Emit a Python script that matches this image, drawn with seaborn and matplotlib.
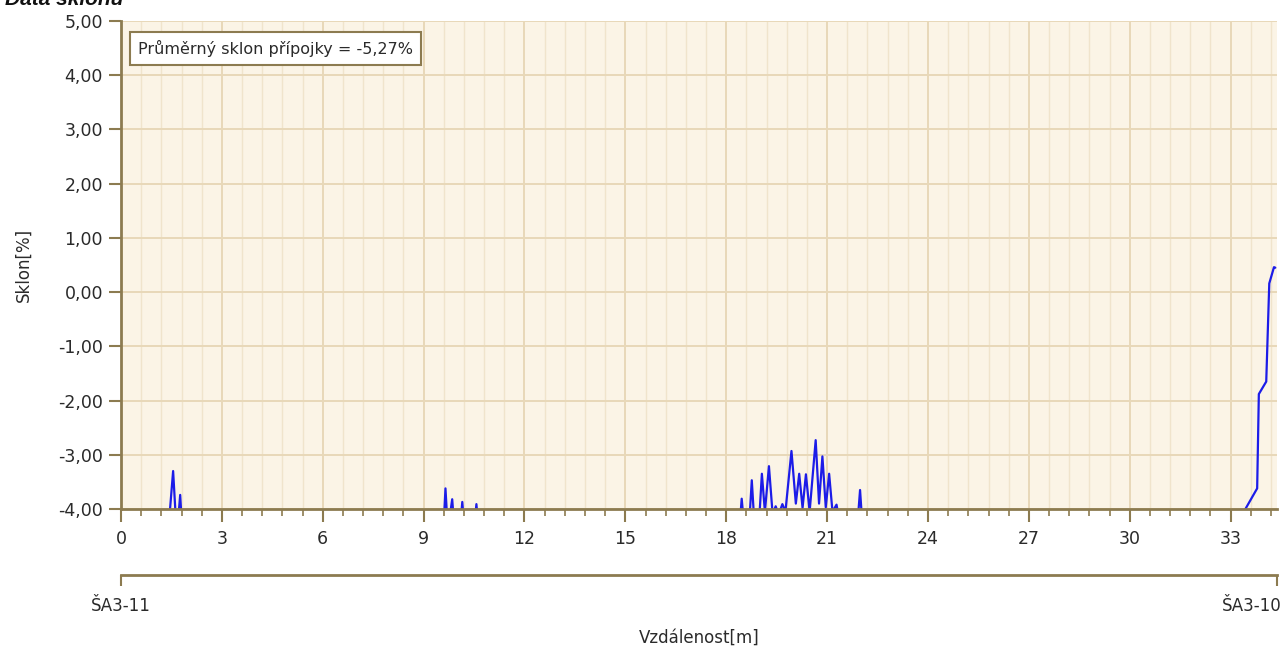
import matplotlib
matplotlib.use("Agg")
import matplotlib.pyplot as plt
import matplotlib.ticker as mticker
import matplotlib.transforms as mtransforms
import pandas as pd
import seaborn as sns

# ---- data ----
distance_m = [0.0, 0.6, 1.0, 1.38, 1.55, 1.66, 1.76, 1.84, 2.4, 3.5, 5.0, 6.5, 8.0, 9.0,
              9.58, 9.65, 9.72, 9.85, 9.92, 10.08, 10.15, 10.22, 10.5, 10.57, 10.64, 11.5,
              13.0, 15.0, 16.5, 17.5, 18.2, 18.4, 18.46, 18.53, 18.68, 18.76, 18.84, 18.98,
              19.06, 19.15, 19.27, 19.38, 19.47, 19.56, 19.67, 19.76, 19.94, 20.07, 20.17,
              20.27, 20.37, 20.48, 20.66, 20.76, 20.86, 20.96, 21.06, 21.16, 21.28, 21.36,
              21.9, 21.98, 22.06, 23.0, 25.0, 27.0, 29.0, 31.0, 32.5, 33.2, 33.44, 33.79,
              33.84, 34.06, 34.15, 34.29, 34.33]
slope_pct = [-5.8, -5.5, -5.2, -4.6, -3.30, -4.5, -3.74, -4.6, -5.4, -5.9, -6.0, -5.7, -5.6, -5.2,
             -4.5, -3.62, -4.4, -3.82, -4.4, -4.4, -3.87, -4.4, -4.4, -3.91, -4.4, -5.3,
             -5.8, -6.1, -5.6, -5.0, -4.6, -4.3, -3.81, -4.3, -4.3, -3.47, -4.3, -4.2,
             -3.35, -4.05, -3.21, -4.1, -3.95, -4.1, -3.91, -4.05, -2.93, -3.9, -3.35,
             -3.98, -3.36, -4.05, -2.73, -3.9, -3.03, -3.97, -3.35, -4.05, -3.92, -4.2,
             -4.3, -3.65, -4.4, -5.2, -5.8, -6.0, -5.9, -5.6, -5.0, -4.4, -4.0, -3.62,
             -1.88, -1.65, 0.16, 0.46, 0.45]
end_labels = ["ŠA3-11", "ŠA3-10"]
end_positions = [0.0, 34.38]
mean_label = "Průměrný sklon přípojky = -5,27%"
title = "Data sklonu"
x_label = "Vzdálenost[m]"
y_label = "Sklon[%]"

# ---- style ----
sns.set_theme(style="white")
plt.rcParams['font.family'] = ['DejaVu Sans']

AX_COL = '#8C7B50'
TXT_COL = '#2a2a2a'

W, H = 1284, 653
fig = plt.figure(figsize=(W / 100, H / 100), dpi=100)
fig.patch.set_facecolor('white')
left, right, top, bottom = 121, 1277, 21, 509
ax = fig.add_axes([left / W, 1 - bottom / H, (right - left) / W, (bottom - top) / H])
ax.set_facecolor('#FBF4E6')

df = pd.DataFrame({'dist': distance_m, 'slope': slope_pct})
sns.lineplot(data=df, x='dist', y='slope', ax=ax, color='#1C1CE8', linewidth=1.6,
             estimator=None, sort=False)

ax.set_xlim(end_positions[0], end_positions[1])
ax.set_ylim(-4, 5)
ax.xaxis.set_major_locator(mticker.MultipleLocator(3))
ax.xaxis.set_minor_locator(mticker.MultipleLocator(0.6))
ax.yaxis.set_major_locator(mticker.MultipleLocator(1))
ax.yaxis.set_minor_locator(mticker.MultipleLocator(0.5))
ax.yaxis.set_major_formatter(mticker.FuncFormatter(lambda v, p: f"{v:.2f}".replace('.', ',')))
ax.xaxis.set_major_formatter(mticker.FuncFormatter(lambda v, p: f"{v:.0f}"))

ax.set_axisbelow(True)
ax.grid(which='minor', color='#F0E4CC', linewidth=1.0)
ax.grid(which='major', color='#E8D8B8', linewidth=1.4)

for s in ['top', 'right']:
    ax.spines[s].set_visible(False)
for s in ['left', 'bottom']:
    ax.spines[s].set_color(AX_COL)
    ax.spines[s].set_linewidth(2)

ax.tick_params(which='major', direction='out', length=9, width=1.5, color=AX_COL,
               labelsize=12.5, labelcolor=TXT_COL, pad=4, bottom=True, left=True)
ax.tick_params(which='minor', direction='out', length=5, width=1.2, color=AX_COL,
               bottom=True, left=True)
ax.tick_params(axis='x', which='major', pad=6)

ax.set_xlabel('')
ax.set_ylabel(y_label, fontsize=12, color=TXT_COL, labelpad=18)

# mean slope text box
ax.text(0.015, 0.962, mean_label, transform=ax.transAxes, ha='left', va='top',
        fontsize=11.5, color=TXT_COL,
        bbox=dict(boxstyle='square,pad=0.5', facecolor='white', edgecolor=AX_COL, linewidth=1.5))

# secondary bracket axis with manhole labels
ax2 = ax.twiny()
ax2.set_xlim(end_positions[0], end_positions[1])
ax2.xaxis.set_ticks_position('bottom')
ax2.xaxis.set_label_position('bottom')
ax2.spines['bottom'].set_position(('outward', 47.5))
for s in ['top', 'left', 'right']:
    ax2.spines[s].set_visible(False)
ax2.spines['bottom'].set_color(AX_COL)
ax2.spines['bottom'].set_linewidth(2)
ax2.set_xticks(end_positions)
ax2.set_xticklabels(end_labels)
ax2.minorticks_off()
ax2.grid(False)
ax2.tick_params(axis='x', direction='out', length=8, width=1.5, color=AX_COL,
                labelsize=12, labelcolor=TXT_COL, pad=8)
lbls = ax2.get_xticklabels()
lbls[1].set_ha('right')
lbls[1].set_transform(lbls[1].get_transform() +
                      mtransforms.ScaledTranslation(3 / 72, 0, fig.dpi_scale_trans))
ax2.set_xlabel(x_label, fontsize=12, color=TXT_COL, labelpad=10)

# title (partly cut at the top edge, as in the reference)
fig.text(5 / W, 1 - 5 / H, title, ha='left', va='baseline', fontsize=15,
         fontweight='bold', fontstyle='italic', family=['Liberation Sans', 'DejaVu Sans'],
         color='#111111')

fig.savefig('out.png', dpi=100, facecolor='white')
